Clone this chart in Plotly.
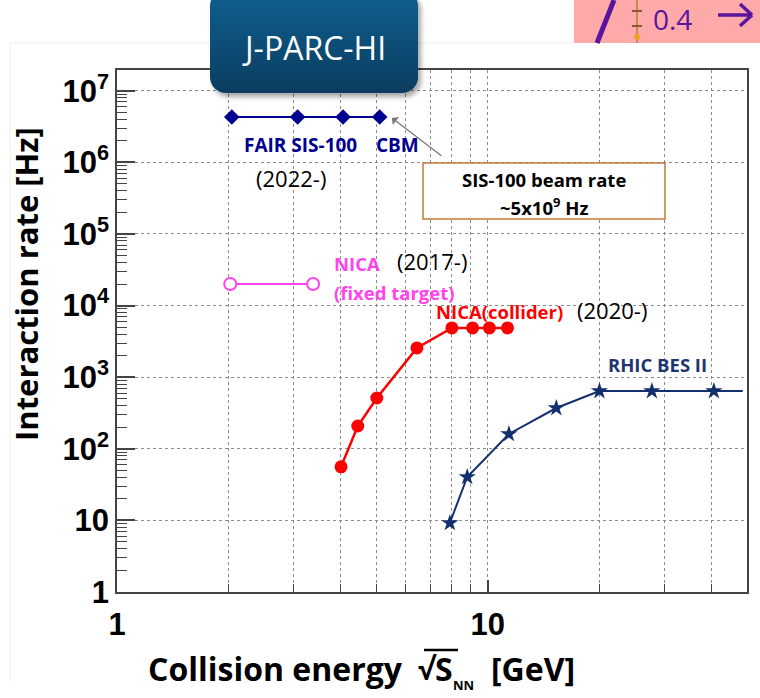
import base64
import plotly.graph_objects as go

# ---------------- data ----------------
fair_x = [2.04, 3.07, 4.07, 5.11]
fair_y = [4.3e6, 4.3e6, 4.3e6, 4.3e6]

nica_ft_x = [2.02, 3.38]
nica_ft_y = [2.0e4, 2.0e4]

nica_col_x = [4.02, 4.46, 5.02, 6.44, 8.0, 9.1, 10.1, 11.3]
nica_col_y = [56, 208, 512, 2560, 4870, 4870, 4870, 4870]

rhic_x = [7.9, 8.8, 11.4, 15.3, 20.0, 27.7, 40.7]
rhic_y = [9.2, 40.4, 161, 371, 641, 641, 641]
rhic_line_end_x = 48.7

x_major = [1, 10]
x_major_text = ["1", "10"]
x_minor = [2, 3, 4, 5, 6, 7, 8, 9, 20, 30, 40]
y_major = [1, 10, 1e2, 1e3, 1e4, 1e5, 1e6, 1e7]
y_major_text = ["1", "10", "10<sup>2</sup>", "10<sup>3</sup>", "10<sup>4</sup>",
                "10<sup>5</sup>", "10<sup>6</sup>", "10<sup>7</sup>"]
y_minor = [m * 10 ** e for e in range(0, 7) for m in range(2, 10)] + [2e7]

# ---------------- layout geometry ----------------
W, H = 760, 698
L, R, T, B = 117, 13, 70, 106
PW, PH = W - L - R, H - T - B


def PX(X):
    return (X - L) / PW


def PY(Y):
    return (T + PH - Y) / PH


FAIR_C = "#000090"
NICA_FT_C = "#ff44ee"
NICA_C = "#ff0000"
RHIC_C = "#12306e"
PURPLE = "#5a159e"
TXT = "Open Sans"
TICKF = "Liberation Sans, Arial, sans-serif"

fig = go.Figure()

fig.add_trace(go.Scatter(x=fair_x, y=fair_y, mode="lines+markers",
                         line=dict(color=FAIR_C, width=2),
                         marker=dict(symbol="diamond", size=12, color=FAIR_C)))
fig.add_trace(go.Scatter(x=nica_ft_x, y=nica_ft_y, mode="lines+markers",
                         line=dict(color=NICA_FT_C, width=2),
                         marker=dict(symbol="circle", size=12, color="white",
                                     line=dict(color=NICA_FT_C, width=2))))
fig.add_trace(go.Scatter(x=nica_col_x, y=nica_col_y, mode="lines+markers",
                         line=dict(color=NICA_C, width=2.5),
                         marker=dict(symbol="circle", size=13, color=NICA_C)))
fig.add_trace(go.Scatter(x=rhic_x + [rhic_line_end_x], y=rhic_y + [rhic_y[-1]],
                         mode="lines", line=dict(color=RHIC_C, width=2)))
fig.add_trace(go.Scatter(x=rhic_x, y=rhic_y, mode="markers",
                         marker=dict(symbol="star", size=13, color=RHIC_C)))

grid = dict(showgrid=True, gridcolor="#8a8a8a", griddash="dot", gridwidth=1)

fig.update_xaxes(type="log", range=[0, 1.6990], tickmode="array",
                 tickvals=x_major, ticktext=["<b>%s</b>" % t for t in x_major_text],
                 ticks="inside", ticklen=12, tickwidth=1.5, tickcolor="#444",
                 tickfont=dict(family=TICKF, size=31, color="black"),
                 ticklabelstandoff=4,
                 showline=True, mirror=True, linecolor="#444", linewidth=1.5,
                 zeroline=False,
                 minor=dict(tickmode="array", tickvals=x_minor, ticks="inside",
                            ticklen=8, tickwidth=1.2, tickcolor="#444", **grid),
                 **grid)
fig.update_yaxes(type="log", range=[0, 7.29], tickmode="array",
                 tickvals=y_major, ticktext=["<b>%s</b>" % t for t in y_major_text],
                 ticks="inside", ticklen=18, tickwidth=1.5, tickcolor="#444",
                 tickfont=dict(family=TICKF, size=31, color="black"),
                 ticklabelstandoff=0,
                 showline=True, mirror=True, linecolor="#444", linewidth=1.5,
                 zeroline=False,
                 minor=dict(tickmode="array", tickvals=y_minor, ticks="inside",
                            ticklen=10, tickwidth=1.2, tickcolor="#444", showgrid=False),
                 **grid)

ann = []


def text(X, Y, s, size, color="black", bold=False, xanchor="center", angle=0, family=TXT):
    ann.append(dict(x=PX(X), y=PY(Y), xref="paper", yref="paper", text=s,
                    showarrow=False, xanchor=xanchor, yanchor="middle", textangle=angle,
                    font=dict(family=family, size=size, color=color,
                              weight="bold" if bold else "normal")))


text(300, 145, "FAIR SIS-100", 19, FAIR_C, True)
text(397, 145, "CBM", 19, FAIR_C, True)
text(291, 178, "(2022-)", 22)
text(332, 263, "NICA", 18.5, NICA_FT_C, True, "left")
text(332, 292, "(fixed target)", 18.5, NICA_FT_C, True, "left")
text(432, 261, "(2017-)", 22)
text(499, 311, "NICA(collider)", 18.5, NICA_C, True)
text(612, 310, "(2020-)", 22)
text(657, 364, "RHIC BES II", 18.5, "#1f3570", True)

# SIS-100 box text (box itself is a shape below)
text(544, 179, "SIS-100 beam rate", 18.5, bold=True)
text(544, 206, "~5x10<sup>9</sup> Hz", 18.5, bold=True)
# arrow from box to CBM point
ann.append(dict(x=(392 - L) / 371, y=(592 - 118) / 71.6, xref="x", yref="y",
                text="", showarrow=True, ax=51, ay=39, arrowhead=1, arrowsize=1.4,
                arrowwidth=1.2, arrowcolor="#777"))

# axis titles
text(26, 284, "Interaction rate [Hz]", 31, bold=True, angle=-90)
text(405, 668, "Collision energy", 32, bold=True, xanchor="right")
text(416, 668, "√", 30, bold=True, xanchor="left")
text(433, 668, "S", 32, bold=True, xanchor="left")
text(451, 685, "NN", 13, bold=True, xanchor="left")
text(489, 668, "[GeV]", 32, bold=True, xanchor="left")

# J-PARC-HI banner (gradient box as svg image) + text
svg = """<svg xmlns='http://www.w3.org/2000/svg' width='224' height='116' viewBox='0 0 224 116'>
<defs><linearGradient id='g' x1='0' y1='0' x2='0' y2='1'>
<stop offset='0' stop-color='#0f6092'/><stop offset='1' stop-color='#0a3d5e'/></linearGradient>
<filter id='s' x='-10%' y='-10%' width='130%' height='140%'><feGaussianBlur stdDeviation='2.5'/></filter></defs>
<rect x='9' y='4' width='208' height='103' rx='16' fill='#000' opacity='0.35' filter='url(#s)'/>
<rect x='6' y='0' width='208' height='103' rx='16' fill='url(#g)'/>
</svg>"""
src = "data:image/svg+xml;base64," + base64.b64encode(svg.encode()).decode()
fig.add_layout_image(dict(source=src, xref="paper", yref="paper", x=PX(204), y=PY(-10),
                          sizex=224 / PW, sizey=116 / PH, xanchor="left", yanchor="top",
                          sizing="stretch", layer="above"))
text(314, 47, "J-PARC-HI", 32, "white")


def pline(x0, y0, x1, y1, color, width, layer="above"):
    return dict(type="line", xref="paper", yref="paper", x0=PX(x0), x1=PX(x1),
                y0=PY(y0), y1=PY(y1), line=dict(color=color, width=width), layer=layer)


shapes = [
    # SIS-100 beam-rate box
    dict(type="rect", xref="paper", yref="paper", x0=PX(423), x1=PX(665), y0=PY(219), y1=PY(163),
         fillcolor="white", line=dict(color="#c27c3e", width=1.5), layer="above"),
    # overline of sqrt(S_NN)
    pline(424, 650, 458, 650, "black", 2.5),
    # cropped slide fragment at top right
    dict(type="rect", xref="paper", yref="paper", x0=PX(574), x1=PX(765), y0=PY(-5), y1=PY(43),
         fillcolor="#ffaaaa", line=dict(width=0), layer="below"),
    pline(597, 43, 614, 0, PURPLE, 5),
    pline(637, 43, 637, 0, "#b0803e", 1.5),
    pline(632, 11, 642, 11, "#8a5a2e", 2),
    pline(632, 26, 642, 26, "#8a5a2e", 2),
    dict(type="circle", xref="paper", yref="paper", x0=PX(634), x1=PX(640), y0=PY(40), y1=PY(34),
         fillcolor="#f0a020", line=dict(width=0)),
    pline(718, 15, 752, 15, PURPLE, 3.5),
    pline(740, 4, 752, 15, PURPLE, 3.5),
    pline(740, 26, 752, 15, PURPLE, 3.5),
    # faint slide frame
    pline(10, 43, 574, 43, "#eeeeee", 1, "below"),
    pline(10, 43, 10, 682, "#eeeeee", 1, "below"),
]
text(651, 19, "0.4", 28, PURPLE, xanchor="left")

fig.update_layout(width=W, height=H, margin=dict(l=L, r=R, t=T, b=B),
                  paper_bgcolor="white", plot_bgcolor="white", showlegend=False,
                  annotations=ann, shapes=shapes)

fig.write_html("out.html")
